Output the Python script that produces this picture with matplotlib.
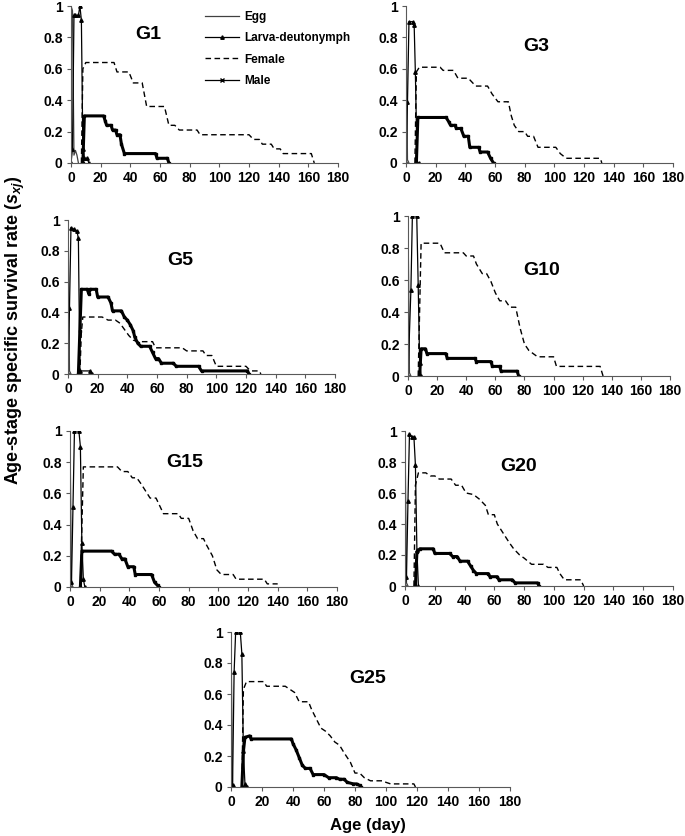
import matplotlib
matplotlib.use("Agg")
import matplotlib.pyplot as plt
from matplotlib.lines import Line2D

plt.rcParams['font.family'] = ['Liberation Sans', 'DejaVu Sans']
plt.rcParams['font.weight'] = 'bold'
plt.rcParams['mathtext.fontset'] = 'custom'
plt.rcParams['mathtext.it'] = 'Liberation Sans:bold:italic'
plt.rcParams['mathtext.rm'] = 'Liberation Sans:bold'

############################################
# data: (age in days, age-stage survival rate)

g1_egg = [(0, 1), (1, 0.97), (2, 0.05), (3, 0.08), (4, 0.05), (5, 0)]
g1_larva = [(0, 0), (1, 0.09), (2, 0.94), (3, 0.94), (5, 0.94), (6, 1.0), (7, 0.91),
            (8, 0.09), (9, 0.03), (11, 0.03), (12, 0)]
g1_female = [(7, 0), (8, 0.6), (10, 0.64), (29, 0.64), (31, 0.58), (39, 0.58), (42, 0.51),
             (48, 0.51), (51, 0.36), (63, 0.36), (66, 0.24), (70, 0.24), (73, 0.21), (85, 0.21),
             (87, 0.18), (120, 0.18), (123, 0.15), (127, 0.15), (129, 0.12), (135, 0.12),
             (137, 0.09), (141, 0.09), (143, 0.06), (162, 0.06), (164, 0)]
g1_male = [(8, 0), (9, 0.3), (22, 0.3), (23, 0.27), (24, 0.24), (27, 0.24), (28, 0.21),
           (30, 0.21), (31, 0.18), (33, 0.18), (34, 0.12), (36, 0.06), (57, 0.06), (58, 0.03),
           (65, 0.03), (66, 0)]

g3_egg = [(0, 1), (1, 0.02), (2, 0)]
g3_larva = [(0, 0), (1, 0.39), (2, 0.9), (5, 0.9), (5.5, 0.88), (6.3, 0.58), (7.5, 0), (9, 0)]
g3_female = [(6, 0), (7, 0.58), (9, 0.61), (23, 0.61), (25, 0.59), (32, 0.59), (35, 0.54),
             (42, 0.54), (44, 0.52), (47, 0.49), (55, 0.49), (58, 0.44), (62, 0.39), (69, 0.39),
             (71, 0.3), (73, 0.24), (76, 0.2), (80, 0.2), (82, 0.17), (86, 0.17), (89, 0.1),
             (101, 0.1), (104, 0.06), (108, 0.03), (131, 0.03), (132, 0)]
g3_male = [(7, 0), (8, 0.29), (27, 0.29), (29, 0.26), (30, 0.24), (33, 0.24), (34, 0.22),
           (37, 0.22), (39, 0.17), (42, 0.17), (43, 0.1), (49, 0.1), (50, 0.07), (55, 0.07),
           (57, 0.03), (59, 0)]

g5_egg = [(0, 1), (1, 0.02), (2, 0)]
g5_larva = [(0, 0), (1, 0.43), (2, 0.95), (4, 0.94), (6, 0.93), (7, 0.88), (8, 0.02),
            (15, 0.02), (16, 0)]
g5_female = [(8, 0), (9, 0.27), (10, 0.37), (23, 0.37), (27, 0.35), (32, 0.35), (35, 0.33),
             (38, 0.29), (41, 0.25), (44, 0.22), (47, 0.21), (57, 0.21), (59, 0.17), (77, 0.17),
             (80, 0.15), (91, 0.15), (93, 0.12), (97, 0.12), (100, 0.05), (120, 0.05),
             (122, 0.03), (124, 0.02), (129, 0.02), (130, 0)]
g5_male = [(7, 0), (8, 0.28), (9, 0.55), (13, 0.55), (14, 0.52), (15, 0.55), (19, 0.55),
           (20, 0.5), (27, 0.5), (29, 0.46), (30, 0.41), (36, 0.41), (38, 0.37), (40, 0.35),
           (42, 0.32), (44, 0.28), (45, 0.24), (47, 0.2), (49, 0.18), (55, 0.18), (57, 0.14),
           (59, 0.1), (61, 0.1), (63, 0.07), (71, 0.07), (73, 0.05), (88, 0.05), (90, 0.02),
           (121, 0.02), (122, 0)]

g10_egg = [(0, 1), (1, 0.02), (2, 0)]
g10_larva = [(0, 0), (2, 0.54), (3, 1.0), (6, 1.0), (7, 0.57), (8, 0.08), (9, 0)]
g10_female = [(7, 0), (9, 0.83), (22, 0.83), (25, 0.77), (38, 0.77), (40, 0.75), (45, 0.75),
              (47, 0.7), (51, 0.64), (54, 0.64), (57, 0.59), (60, 0.52), (63, 0.47), (67, 0.47),
              (70, 0.43), (74, 0.43), (77, 0.3), (80, 0.2), (83, 0.16), (86, 0.14), (89, 0.12),
              (100, 0.12), (102, 0.06), (132, 0.06), (134, 0)]
g10_male = [(8, 0), (9, 0.17), (12, 0.17), (13, 0.14), (26, 0.14), (27, 0.11), (46, 0.11),
            (47, 0.09), (57, 0.09), (58, 0.06), (63, 0.06), (64, 0.03), (75, 0.03), (76, 0)]

g15_egg = [(0, 1), (1, 0.02), (2, 0)]
g15_larva = [(0, 0), (1, 0.03), (2, 0.51), (3, 1.0), (6, 1.0), (7, 0.9), (8, 0.28),
             (9, 0.05), (10, 0)]
g15_female = [(7, 0), (9, 0.77), (32, 0.77), (35, 0.74), (39, 0.74), (42, 0.7), (45, 0.7),
              (48, 0.66), (52, 0.6), (54, 0.57), (58, 0.57), (60, 0.53), (63, 0.47), (73, 0.47),
              (75, 0.44), (80, 0.44), (83, 0.36), (86, 0.31), (90, 0.31), (92, 0.27), (96, 0.2),
              (99, 0.11), (102, 0.08), (110, 0.08), (112, 0.05), (131, 0.05), (133, 0.02),
              (140, 0.02)]
g15_male = [(7, 0), (8, 0.23), (28, 0.23), (30, 0.21), (33, 0.21), (35, 0.18), (37, 0.18),
            (39, 0.13), (43, 0.13), (44, 0.08), (55, 0.08), (57, 0.03), (59, 0.01), (60, 0)]

g20_egg = [(0, 1), (1, 0.02), (2, 0)]
g20_larva = [(0, 0), (1, 0.06), (2, 0.55), (3, 0.98), (5, 0.96), (6, 0.96), (7, 0.78),
             (8, 0.23), (9, 0)]
g20_female = [(6, 0), (7, 0.65), (9, 0.73), (14, 0.73), (17, 0.71), (20, 0.71), (23, 0.69),
              (31, 0.69), (34, 0.65), (38, 0.65), (41, 0.6), (46, 0.59), (50, 0.56), (54, 0.52),
              (56, 0.46), (60, 0.46), (62, 0.4), (66, 0.34), (70, 0.28), (73, 0.24), (77, 0.2),
              (80, 0.18), (85, 0.14), (93, 0.14), (96, 0.12), (102, 0.12), (104, 0.08),
              (107, 0.04), (118, 0.04), (120, 0)]
g20_male = [(7, 0), (8, 0.22), (10, 0.24), (19, 0.24), (20, 0.21), (30, 0.21), (32, 0.19),
            (35, 0.19), (37, 0.16), (42, 0.16), (44, 0.13), (46, 0.1), (48, 0.08), (56, 0.08),
            (57, 0.06), (62, 0.06), (63, 0.04), (72, 0.04), (74, 0.02), (89, 0.02), (90, 0)]

g25_egg = [(0, 1), (1, 0.01), (2, 0)]
g25_larva = [(0, 0), (1, 0.01), (2, 0.74), (3, 1.0), (6, 1.0), (7, 0.86), (8, 0.23),
             (9, 0.02), (10, 0)]
g25_female = [(7, 0), (8, 0.63), (10, 0.68), (21, 0.68), (23, 0.65), (35, 0.65), (38, 0.63),
              (41, 0.61), (44, 0.55), (50, 0.55), (52, 0.5), (55, 0.44), (58, 0.38), (61, 0.36),
              (64, 0.33), (67, 0.29), (70, 0.27), (73, 0.22), (77, 0.16), (80, 0.09), (83, 0.09),
              (86, 0.06), (90, 0.04), (98, 0.04), (100, 0.03), (103, 0.02), (118, 0.02),
              (119, 0)]
g25_male = [(7, 0), (8, 0.23), (9, 0.32), (12, 0.33), (13, 0.31), (39, 0.31), (40, 0.28),
            (42, 0.24), (44, 0.19), (46, 0.14), (48, 0.12), (51, 0.12), (53, 0.08), (60, 0.08),
            (63, 0.06), (68, 0.06), (70, 0.05), (73, 0.05), (75, 0.03), (79, 0.02), (81, 0.02),
            (83, 0.01), (84, 0)]

panels = ['G1', 'G3', 'G5', 'G10', 'G15', 'G20', 'G25']
stage_data = {
    'G1': (g1_egg, g1_larva, g1_female, g1_male),
    'G3': (g3_egg, g3_larva, g3_female, g3_male),
    'G5': (g5_egg, g5_larva, g5_female, g5_male),
    'G10': (g10_egg, g10_larva, g10_female, g10_male),
    'G15': (g15_egg, g15_larva, g15_female, g15_male),
    'G20': (g20_egg, g20_larva, g20_female, g20_male),
    'G25': (g25_egg, g25_larva, g25_female, g25_male),
}
x_ticks = [0, 20, 40, 60, 80, 100, 120, 140, 160, 180]
y_ticks = [0, 0.2, 0.4, 0.6, 0.8, 1]
y_labels = ['0', '0.2', '0.4', '0.6', '0.8', '1']

############################################
# layout (figure fractions) and panel-title positions (data coords)
W, H = 685.0, 836.0
rects = {
    'G1': [71 / W, 1 - 163 / H, 267 / W, 157 / H],
    'G3': [406 / W, 1 - 163 / H, 267 / W, 157 / H],
    'G5': [68 / W, 1 - 374 / H, 267 / W, 154 / H],
    'G10': [408 / W, 1 - 376 / H, 262 / W, 160 / H],
    'G15': [70 / W, 1 - 587 / H, 267 / W, 156 / H],
    'G20': [405 / W, 1 - 586 / H, 268 / W, 155 / H],
    'G25': [231 / W, 1 - 787 / H, 279 / W, 155 / H],
}
title_pos = {
    'G1': (52, 0.82), 'G3': (88, 0.74), 'G5': (76, 0.74), 'G10': (92, 0.66),
    'G15': (77, 0.80), 'G20': (76, 0.77), 'G25': (88, 0.70),
}

fig = plt.figure(figsize=(6.85, 8.36), dpi=100)

for name in panels:
    ax = fig.add_axes(rects[name])
    egg, larva, female, male = stage_data[name]

    x, y = zip(*egg)
    ax.plot(x, y, color='0.25', lw=0.9)
    x, y = zip(*larva)
    ax.plot(x, y, color='black', lw=0.9, marker='^', ms=2.5)
    x, y = zip(*female)
    ax.plot(x, y, color='black', lw=1.0, ls=(0, (4, 2.5)))
    x, y = zip(*male)
    ax.plot(x, y, color='black', lw=2.2, marker='s', ms=1.8)

    ax.set_xlim(0, 180)
    ax.set_ylim(0, 1)
    ax.set_xticks(x_ticks)
    ax.set_yticks(y_ticks)
    ax.set_yticklabels(y_labels)
    for s in ['top', 'right']:
        ax.spines[s].set_visible(False)
    for s in ['left', 'bottom']:
        ax.spines[s].set_linewidth(0.8)
        ax.spines[s].set_color('0.35')
    ax.tick_params(direction='out', length=3, width=0.8, color='0.35',
                   labelsize=10, pad=3)
    for lab in ax.get_xticklabels() + ax.get_yticklabels():
        lab.set_fontweight('bold')
    ax.text(title_pos[name][0], title_pos[name][1], name, fontsize=14,
            fontweight='bold', ha='center', va='center')

    if name == 'G1':
        handles = [
            Line2D([], [], color='0.25', lw=0.9),
            Line2D([], [], color='black', lw=0.9, marker='^', ms=2.5),
            Line2D([], [], color='black', lw=1.0, ls=(0, (4, 2.5))),
            Line2D([], [], color='black', lw=0.9, marker='x', ms=2.5),
        ]
        ax.legend(handles, ['Egg', 'Larva-deutonymph', 'Female', 'Male'],
                  loc='upper left', bbox_to_anchor=(0.485, 1.0), frameon=False,
                  prop={'size': 8.5, 'weight': 'bold'}, handlelength=2.9,
                  handletextpad=0.4, labelspacing=0.8, borderaxespad=0)

fig.text(0.022, 0.605, r'Age-stage specific survival rate ($s_{xj}$)', rotation=90,
         ha='center', va='center', fontsize=13, fontweight='bold')
fig.text(0.537, 0.012, 'Age (day)', ha='center', va='center', fontsize=12,
         fontweight='bold')

fig.savefig('out.png', dpi=100)
